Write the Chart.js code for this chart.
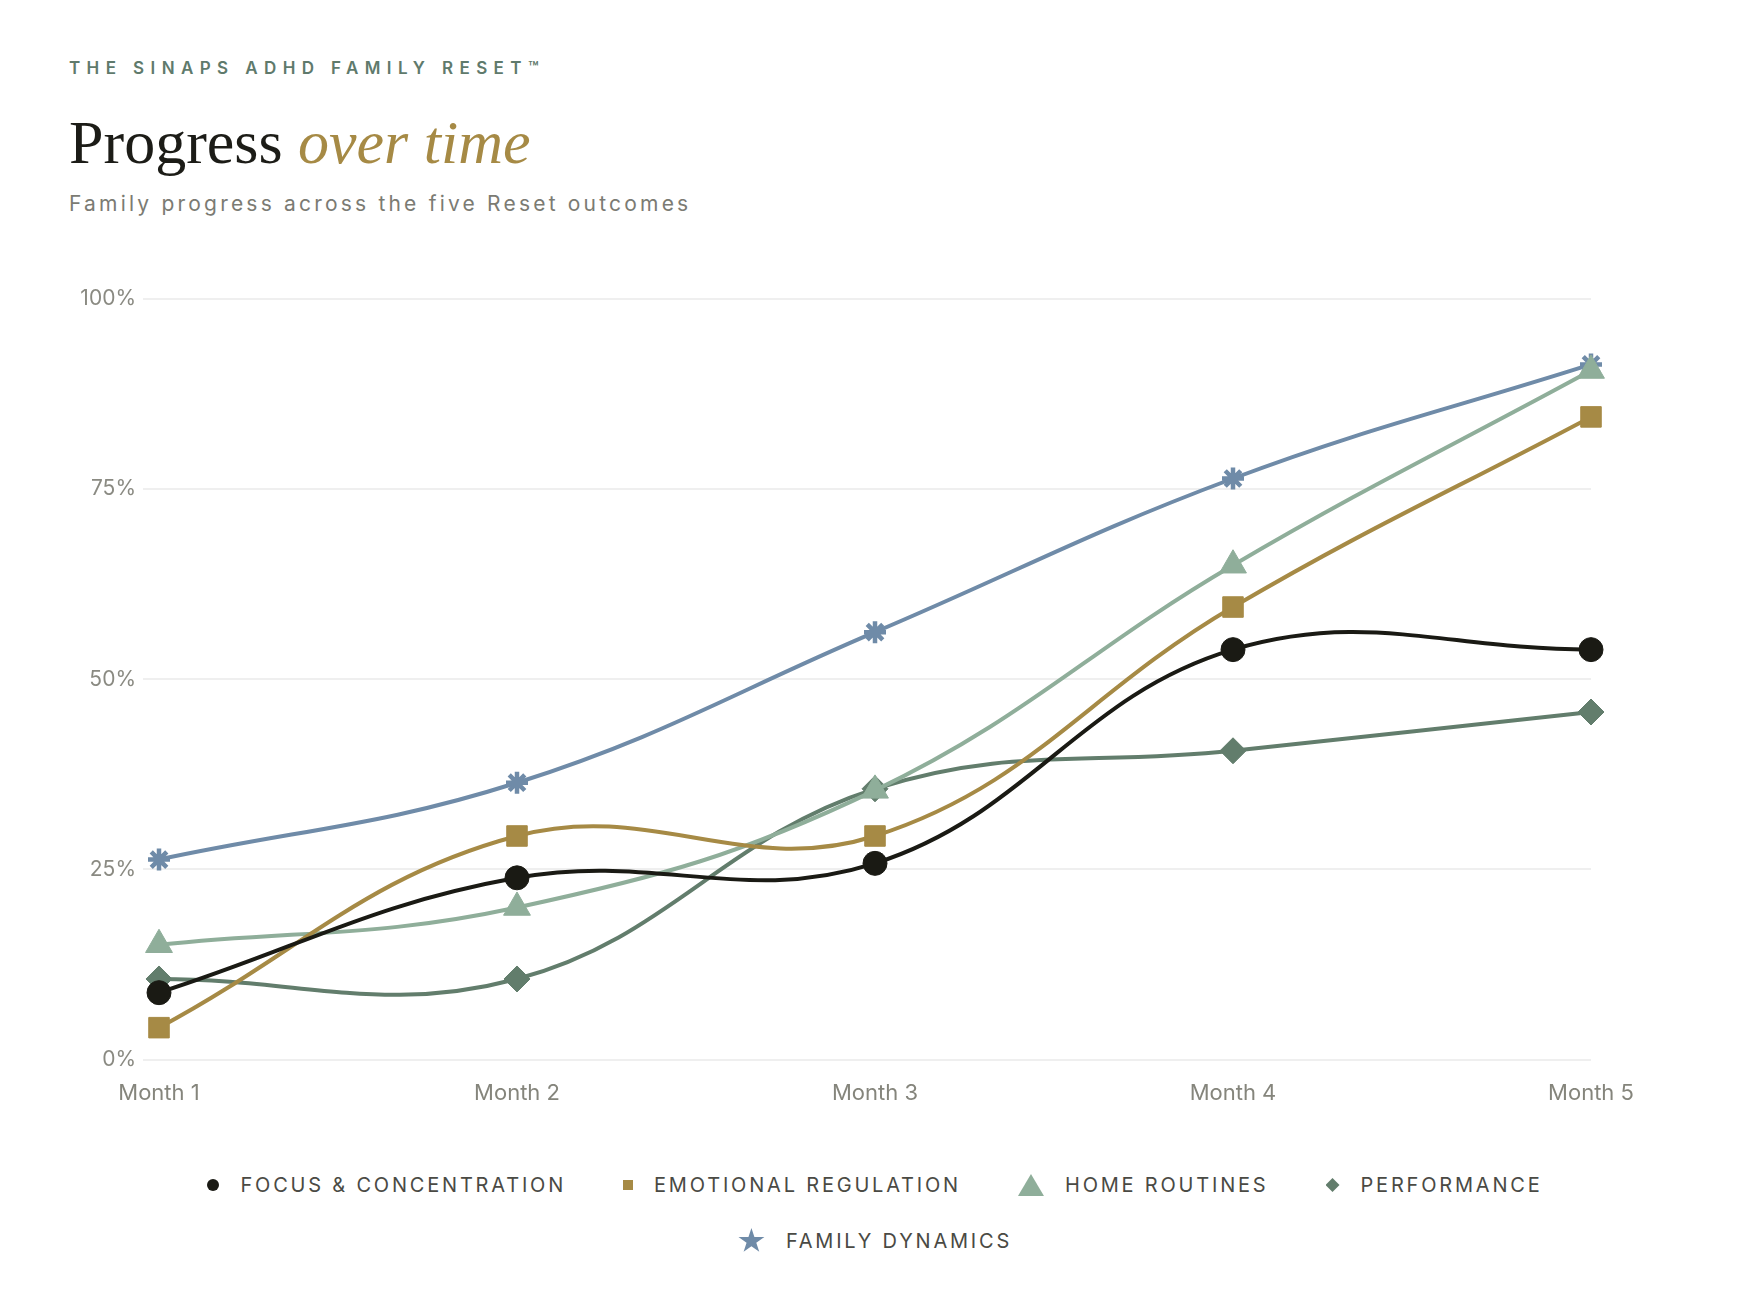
<!DOCTYPE html>
<html>
<head>
<meta charset="utf-8">
<script src="https://cdn.jsdelivr.net/npm/chart.js@4.4.1/dist/chart.umd.min.js"></script>
<style>
  html, body { margin: 0; padding: 0; background: #ffffff; }
  body { width: 1740px; height: 1310px; position: relative; overflow: hidden; font-family: Inter, "Noto Sans", sans-serif; }
  #kicker { position: absolute; left: 69px; top: 58px; font-size: 17px; font-weight: 600; letter-spacing: 6.4px; color: #5f7a6c; white-space: nowrap; }
  #title { position: absolute; left: 69px; top: 111px; font-family: "Liberation Serif", "DejaVu Serif", serif; font-size: 62px; font-weight: 400; color: #1c1c17; white-space: nowrap; line-height: 1; }
  #title em { color: #a68a45; font-style: italic; }
  #subtitle { position: absolute; left: 69px; top: 191px; font-size: 21px; letter-spacing: 3.2px; color: #7b7b73; white-space: nowrap; }
  #chartWrap { position: absolute; left: 0; top: 250px; width: 1740px; height: 880px; }
  #legend { position: absolute; left: 159px; width: 1432px; top: 1168px; display: flex; flex-wrap: wrap; justify-content: center; column-gap: 57px; row-gap: 22px; }
  .item { display: flex; align-items: center; height: 34px; }
  .item span.txt { font-size: 20px; letter-spacing: 2.8px; color: #4a4a44; white-space: nowrap; margin-left: 21px; }
  .mk { display: inline-block; }
</style>
</head>
<body>
<div id="kicker">THE SINAPS ADHD FAMILY RESET™</div>
<div id="title">Progress <em>over time</em></div>
<div id="subtitle">Family progress across the five Reset outcomes</div>
<div id="chartWrap"><canvas id="c" width="1740" height="880"></canvas></div>
<div id="legend"></div>
<script>
const months = ["Month 1", "Month 2", "Month 3", "Month 4", "Month 5"];
const seriesNames = ["FOCUS & CONCENTRATION", "EMOTIONAL REGULATION", "HOME ROUTINES", "PERFORMANCE", "FAMILY DYNAMICS"];
const focus = [8.8, 23.9, 25.8, 53.9, 53.9];
const emotional = [4.2, 29.4, 29.4, 59.5, 84.5];
const routines = [15.1, 20.0, 35.4, 65.0, 90.6];
const performance = [10.6, 10.6, 35.6, 40.6, 45.7];
const dynamics = [26.3, 36.4, 56.2, 76.4, 91.4];
const yTicks = [0, 25, 50, 75, 100];

const colors = ["#1a1a14", "#a68a45", "#8fae9a", "#627d6c", "#6f8ba8"];
const styles = ["circle", "rect", "triangle", "rectRot", "star"];
const radii = [12, 14.5, 15.5, 13, 11];
const values = [focus, emotional, routines, performance, dynamics];

const datasets = values.map((v, i) => ({
  label: seriesNames[i],
  data: v,
  borderColor: colors[i],
  backgroundColor: colors[i],
  pointBackgroundColor: colors[i],
  pointBorderColor: colors[i],
  pointStyle: styles[i],
  pointRadius: radii[i],
  pointBorderWidth: styles[i] === "star" ? 4.5 : 1,
  borderWidth: 4,
  tension: 0.4,
  fill: false
}));

const tickFont = { family: "Inter, 'Noto Sans', sans-serif", size: 21 };

new Chart(document.getElementById("c"), {
  type: "line",
  data: { labels: months, datasets },
  options: {
    responsive: false,
    animation: false,
    devicePixelRatio: 1,
    layout: { padding: { left: 60, right: 149, top: 49, bottom: 2 } },
    plugins: { legend: { display: false }, tooltip: { enabled: false } },
    scales: {
      x: {
        offset: false,
        grid: { display: false, drawTicks: false },
        border: { display: false },
        ticks: { color: "#85857c", font: { family: tickFont.family, size: 22 }, padding: 21 }
      },
      y: {
        min: 0, max: 100,
        afterFit: (s) => { s.width = 99; },
        afterBuildTicks: (s) => { s.ticks = yTicks.map(v => ({ value: v })); },
        grid: { color: "#efefef", lineWidth: 2, tickLength: 16 },
        border: { display: false },
        ticks: { color: "#8a8a82", font: tickFont, padding: 7, callback: (v) => v + "%" }
      }
    }
  }
});

// HTML legend built from the datasets
const legend = document.getElementById("legend");
const markerCss = {
  circle: "width:12px;height:12px;border-radius:50%;",
  rect: "width:10px;height:10px;",
  triangle: "width:26px;height:22px;clip-path:polygon(50% 0,100% 100%,0 100%);",
  rectRot: "width:14px;height:14px;clip-path:polygon(50% 0,100% 50%,50% 100%,0 50%);",
  star: "width:27px;height:26px;clip-path:polygon(50% 0%,61% 35%,98% 35%,68% 57%,79% 91%,50% 70%,21% 91%,32% 57%,2% 35%,39% 35%);"
};
datasets.forEach((d) => {
  const it = document.createElement("div");
  it.className = "item";
  const mk = document.createElement("span");
  mk.className = "mk";
  mk.style.cssText = markerCss[d.pointStyle] + "background:" + d.borderColor + ";";
  const tx = document.createElement("span");
  tx.className = "txt";
  tx.textContent = d.label;
  it.appendChild(mk);
  it.appendChild(tx);
  legend.appendChild(it);
});
</script>
</body>
</html>
